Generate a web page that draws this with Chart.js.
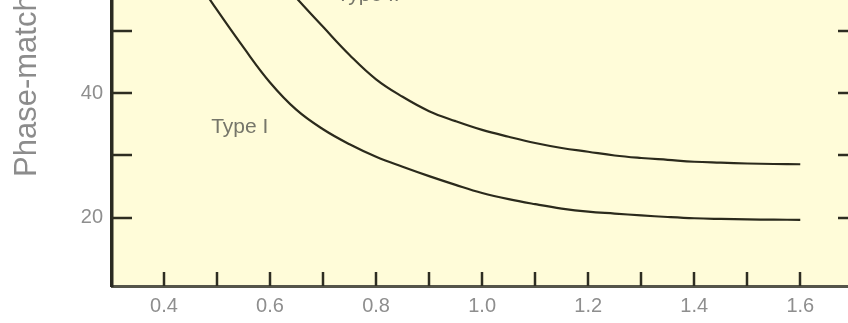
<!DOCTYPE html>
<html>
<head>
<meta charset="utf-8">
<script src="https://cdn.jsdelivr.net/npm/chart.js@4/dist/chart.umd.min.js"></script>
<style>
html,body{margin:0;padding:0;background:#fff;}
#wrap{width:848px;height:323px;}
</style>
</head>
<body>
<div id="wrap"><canvas id="c" width="848" height="323"></canvas></div>
<script>
// Wavelength (µm) and phase-matching angle (deg)
const typeIX = [0.45, 0.5, 0.55, 0.6, 0.65, 0.7, 0.75, 0.8, 0.85, 0.9, 0.95, 1.0, 1.05, 1.1, 1.15, 1.2, 1.25, 1.3, 1.35, 1.4, 1.45, 1.5, 1.55, 1.6];
const typeIY = [59.6, 53.3, 47.3, 41.7, 37.3, 34.2, 31.8, 29.8, 28.2, 26.7, 25.3, 24.0, 23.0, 22.2, 21.5, 21.0, 20.7, 20.4, 20.15, 19.95, 19.84, 19.76, 19.72, 19.7];
const typeIIX = [0.6, 0.65, 0.7, 0.75, 0.8, 0.85, 0.9, 0.95, 1.0, 1.05, 1.1, 1.15, 1.2, 1.25, 1.3, 1.35, 1.4, 1.45, 1.5, 1.55, 1.6];
const typeIIY = [60.0, 55.2, 50.6, 46.1, 42.2, 39.4, 37.1, 35.5, 34.1, 33.0, 32.0, 31.2, 30.6, 30.0, 29.6, 29.3, 29.0, 28.85, 28.72, 28.64, 28.6];
const xTicks = [0.4, 0.5, 0.6, 0.7, 0.8, 0.9, 1.0, 1.1, 1.2, 1.3, 1.4, 1.5, 1.6];
const xTickLabels = ['0.4', '', '0.6', '', '0.8', '', '1.0', '', '1.2', '', '1.4', '', '1.6'];
const yTicks = [20, 30, 40, 50];
const yTickLabels = ['20', '', '40', ''];
const seriesNames = ['Type I', 'Type II'];
const curveLabels = [{text: 'Type I', x: 0.543, y: 34.6}, {text: 'Type II', x: 0.785, y: 54.8}];
const yTitle = 'Phase-matching angle (deg)';

const toPts = (xs, ys) => xs.map((x, i) => ({x: x, y: ys[i]}));

const cream = '#fffcd9';
const ink = '#2b2a1c';
const fontFam = '"Liberation Sans", Arial, sans-serif';

const decor = {
  id: 'decor',
  beforeDraw(chart) {
    const {ctx, chartArea: a} = chart;
    ctx.save();
    ctx.fillStyle = '#ffffff';
    ctx.fillRect(0, 0, chart.width, chart.height);
    ctx.fillStyle = cream;
    ctx.fillRect(a.left, a.top, a.right - a.left, a.bottom - a.top);
    ctx.restore();
  },
  afterDraw(chart) {
    const {ctx, chartArea: a, scales} = chart;
    const xs = scales.x, ys = scales.y;
    ctx.save();
    ctx.strokeStyle = '#2e2d22';
    ctx.lineWidth = 2.5;
    // bottom ticks pointing inward
    xTicks.forEach(v => {
      const px = Math.round(xs.getPixelForValue(v));
      ctx.beginPath(); ctx.moveTo(px, a.bottom); ctx.lineTo(px, a.bottom - 14); ctx.stroke();
    });
    // left and right ticks pointing inward
    yTicks.forEach(v => {
      const py = Math.round(ys.getPixelForValue(v));
      ctx.beginPath(); ctx.moveTo(a.left, py); ctx.lineTo(a.left + 20, py); ctx.stroke();
      ctx.beginPath(); ctx.moveTo(a.right, py); ctx.lineTo(a.right - 10, py); ctx.stroke();
    });
    // curve labels
    ctx.fillStyle = '#76766a';
    ctx.font = '21px ' + fontFam;
    ctx.textAlign = 'center';
    curveLabels.forEach(l => {
      ctx.textBaseline = l.y > 50 ? 'alphabetic' : 'middle';
      ctx.fillText(l.text, xs.getPixelForValue(l.x), ys.getPixelForValue(l.y));
    });
    // y-axis title (rotated, running upward from below)
    ctx.translate(27, 177);
    ctx.rotate(-Math.PI / 2);
    ctx.fillStyle = '#8c8c8c';
    ctx.font = '31px ' + fontFam;
    ctx.textAlign = 'left';
    ctx.textBaseline = 'middle';
    ctx.fillText(yTitle, 0, 0);
    ctx.restore();
  }
};

new Chart(document.getElementById('c'), {
  type: 'line',
  data: {
    datasets: [
      {label: seriesNames[0], data: toPts(typeIX, typeIY)},
      {label: seriesNames[1], data: toPts(typeIIX, typeIIY)}
    ].map(d => Object.assign(d, {
      borderColor: ink, borderWidth: 2.2, pointRadius: 0,
      tension: 0.4, fill: false
    }))
  },
  options: {
    responsive: false,
    animation: false,
    devicePixelRatio: 1,
    layout: {padding: 0},
    plugins: {legend: {display: false}, tooltip: {enabled: false}},
    scales: {
      x: {
        type: 'linear', min: 0.302, max: 1.69,
        afterBuildTicks(s) { s.ticks = xTicks.map(v => ({value: v})); },
        afterFit(s) { s.height = 37; s.paddingLeft = 0; s.paddingRight = 0; },
        grid: {drawOnChartArea: false, drawTicks: false},
        border: {display: true, color: '#55554a', width: 3},
        ticks: {
          autoSkip: false, maxRotation: 0, padding: 8,
          color: '#8e8e8e',
          font: {family: fontFam, size: 20},
          callback(v, i) { return xTickLabels[i]; }
        }
      },
      y: {
        type: 'linear', min: 9.1, max: 54.9,
        afterBuildTicks(s) { s.ticks = yTicks.map(v => ({value: v})); },
        afterFit(s) { s.width = 112; s.paddingTop = 0; s.paddingBottom = 0; },
        grid: {drawOnChartArea: false, drawTicks: false},
        border: {display: true, color: '#2a2a22', width: 3.5},
        ticks: {
          autoSkip: false, padding: 9,
          color: '#8e8e8e',
          font: {family: fontFam, size: 20},
          callback(v, i) { return yTickLabels[i]; }
        }
      }
    }
  },
  plugins: [decor]
});
</script>
</body>
</html>
